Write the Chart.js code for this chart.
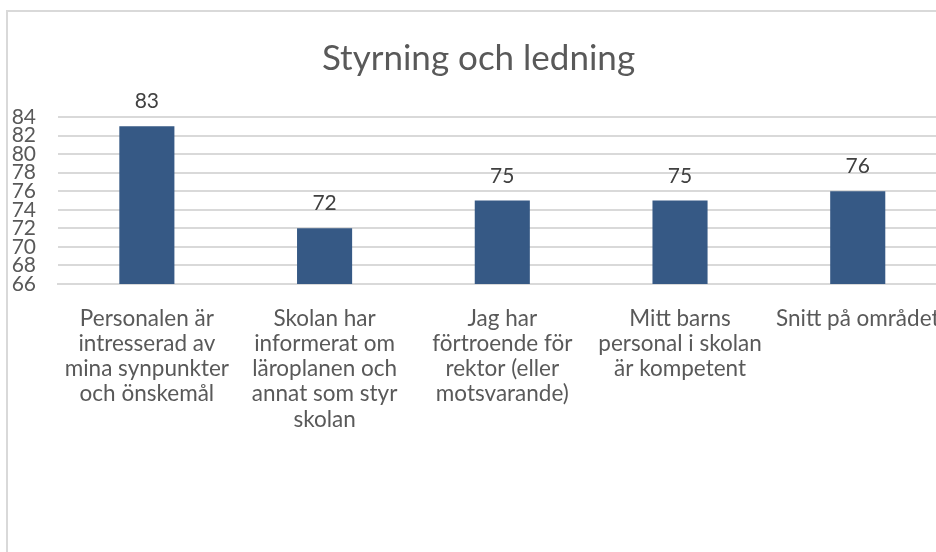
<!DOCTYPE html>
<html>
<head>
<meta charset="utf-8">
<script src="https://cdn.jsdelivr.net/npm/chart.js@4/dist/chart.umd.min.js"></script>
<style>
    html, body { margin: 0; padding: 0; background: #fff; overflow: hidden; }
    body { width: 936px; height: 552px; position: relative; }
    #frame {
        position: absolute; left: 6px; top: 10px; width: 1000px; height: 600px;
        border: 2px solid #d9d9d9; box-sizing: border-box;
    }
    #wrap { position: absolute; left: 0; top: 0; width: 962px; height: 552px; }
</style>
</head>
<body>
<div id="frame"></div>
<div id="wrap"><canvas id="chart"></canvas></div>
<script>
const chartTitle = "Styrning och ledning";
const categories = [
    ["Personalen är", "intresserad av", "mina synpunkter", "och önskemål"],
    ["Skolan har", "informerat om", "läroplanen och", "annat som styr", "skolan"],
    ["Jag har", "förtroende för", "rektor (eller", "motsvarande)"],
    ["Mitt barns", "personal i skolan", "är kompetent"],
    ["Snitt på området"]
];
const values = [83, 72, 75, 75, 76];
const yMin = 66;
const yMax = 84;
const yStep = 2;

const textColor = "#595959";
const barColor = "#365985";
const gridColor = "#d9d9d9";

// value labels above each bar
const dataLabels = {
    id: "dataLabels",
    afterDatasetsDraw(chart) {
        const ctx = chart.ctx;
        ctx.save();
        ctx.font = "21px Lato";
        ctx.fillStyle = "#404040";
        ctx.textAlign = "center";
        ctx.textBaseline = "alphabetic";
        chart.getDatasetMeta(0).data.forEach((bar, i) => {
            ctx.fillText(values[i], bar.x, bar.y - 18);
        });
        ctx.restore();
    }
};

new Chart(document.getElementById("chart"), {
    type: "bar",
    data: {
        labels: categories,
        datasets: [{
            data: values,
            backgroundColor: barColor,
            categoryPercentage: 1,
            barPercentage: 0.31
        }]
    },
    options: {
        responsive: true,
        maintainAspectRatio: false,
        animation: false,
        layout: { padding: { left: 0, right: 5, top: 0, bottom: 0 } },
        plugins: {
            legend: { display: false },
            tooltip: { enabled: false },
            title: {
                display: true,
                text: chartTitle,
                color: textColor,
                font: { family: "Lato", size: 35, weight: "normal", lineHeight: 1.2 },
                padding: { top: 38, bottom: 37 }
            }
        },
        scales: {
            x: {
                grid: { display: false, drawTicks: false },
                border: { display: true, color: gridColor, width: 2 },
                ticks: {
                    color: textColor,
                    font: { family: "Lato", size: 22.5, lineHeight: 1.12 },
                    padding: 22,
                    maxRotation: 0,
                    autoSkip: false
                },
                afterFit(scale) { scale.height = 552 - 284; }
            },
            y: {
                min: yMin,
                max: yMax,
                grid: { color: gridColor, lineWidth: 2, drawTicks: false },
                border: { display: false },
                ticks: {
                    stepSize: yStep,
                    autoSkip: false,
                    color: textColor,
                    font: { family: "Lato", size: 21, lineHeight: 0.9 },
                    padding: 22
                },
                afterFit(scale) { scale.width = 58; }
            }
        }
    },
    plugins: [dataLabels]
});
</script>
</body>
</html>
